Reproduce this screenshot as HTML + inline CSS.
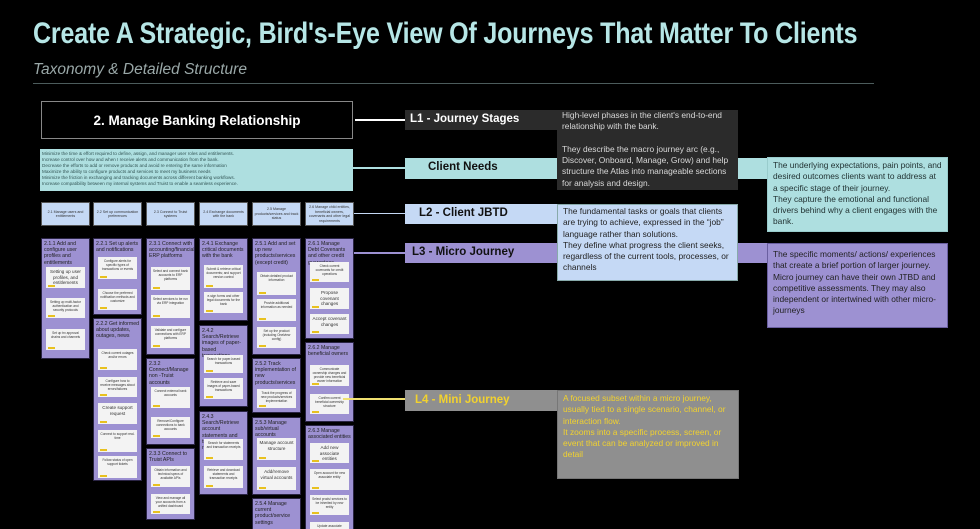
<!DOCTYPE html>
<html><head><meta charset="utf-8"><style>
*{margin:0;padding:0;box-sizing:border-box}
html,body{width:980px;height:529px;overflow:hidden}
body{background:#000;position:relative;font-family:"Liberation Sans",sans-serif}
.a{position:absolute}
.m{position:absolute;background:#9d91d2;width:49px;border:1px solid #2a2444;color:#222;font-size:5.2px;line-height:6.2px;padding:2px 2px;overflow:hidden}
.c{position:absolute;width:39px;background:#f3f3f3;color:#333;font-size:3.2px;line-height:4px;text-align:center;padding:2px 2px 4px;overflow:hidden}
.c:after{content:"";position:absolute;left:2px;bottom:1.5px;width:7px;height:1.5px;background:#e8c11f}
.c.b{font-size:4.6px;line-height:5.6px}
.j{position:absolute;top:202px;height:24px;width:49px;background:#c5d9f5;border:1px solid #555;font-size:3.6px;line-height:4.5px;text-align:center;color:#333;display:flex;align-items:center;justify-content:center;padding:1px}
.d{position:absolute;font-size:8.4px;line-height:11.3px;padding:2px 5px}
.bar{position:absolute;font-weight:bold;font-size:11.5px}
</style></head><body>
<div class="a" style="left:33px;top:17px;font-size:30px;font-weight:bold;color:#b6e6e6;white-space:nowrap;transform:scaleX(0.834);transform-origin:0 0;letter-spacing:-0.2px">Create A Strategic, Bird's-Eye View Of Journeys That Matter To Clients</div>
<div class="a" style="left:33px;top:61px;font-size:15.5px;font-style:italic;color:#9aa8a8;white-space:nowrap">Taxonomy &amp; Detailed Structure</div>
<div class="a" style="left:33px;top:83px;width:841px;height:1px;background:#4c5c5c"></div>

<div class="a" style="left:41px;top:101px;width:312px;height:38px;border:1px solid #888;color:#fff;font-weight:bold;font-size:13.5px;display:flex;align-items:center;justify-content:center">2. Manage Banking Relationship</div>
<div class="a" style="left:40px;top:149px;width:313px;height:42px;background:#aedfe0;color:#355;font-size:4.6px;line-height:6.1px;padding:2px 2px">Minimize the time &amp; effort required to define, assign, and manager user roles and entitlements.<br>Increase control over how and when I receive alerts and communication from the bank.<br>Decrease the efforts to add or remove products and avoid re entering the same information<br>Maximize the ability to configure products and services to meet my business needs<br>Minimize the friction in exchanging and tracking documents across different banking workflows.<br>Increase compatibility between my internal systems and Truist to enable a seamless experience.</div>

<div class="j" style="left:41px">2.1 Manage users and entitlements</div>
<div class="j" style="left:93px">2.2 Set up communication preferences</div>
<div class="j" style="left:146px">2.3 Connect to Truist systems</div>
<div class="j" style="left:199px">2.4 Exchange documents with the bank</div>
<div class="j" style="left:252px">2.5 Manage products/services and track status</div>
<div class="j" style="left:305px">2.6 Manage child entities, beneficial owners, covenants and other legal requirements</div>

<div class="m" style="left:41px;top:238px;height:121px">2.1.1 Add and configure user profiles and entitlements</div>
<div class="c b" style="left:46px;top:267px;height:21px">Setting up user profiles, and entitlements</div>
<div class="c" style="left:46px;top:298px;height:20px">Setting up multi-factor authentication and security protocols</div>
<div class="c" style="left:46px;top:329px;height:21px">Set up trx approval chains and channels</div>

<div class="m" style="left:93px;top:238px;height:77px">2.2.1 Set up alerts and notifications</div>
<div class="c" style="left:98px;top:257px;height:22px">Configure alerts for specific types of transactions or events</div>
<div class="c" style="left:98px;top:289px;height:21px">Choose the preferred notification methods and customize</div>
<div class="m" style="left:93px;top:318px;height:163px">2.2.2 Get informed about updates, outages, news</div>
<div class="c" style="left:98px;top:349px;height:21px">Check current outages and/or errors</div>
<div class="c" style="left:98px;top:377px;height:20px">Configure how to receive messages about errors/failures</div>
<div class="c b" style="left:98px;top:403px;height:21px">Create support request</div>
<div class="c" style="left:98px;top:430px;height:22px">Connect to support real-time</div>
<div class="c" style="left:98px;top:456px;height:22px">Follow status of open support tickets</div>

<div class="m" style="left:146px;top:238px;height:117px">2.3.1 Connect with accounting/financial/ ERP platforms</div>
<div class="c" style="left:151px;top:267px;height:23px">Select and connect bank accounts to ERP platforms</div>
<div class="c" style="left:151px;top:295px;height:23px">Select services to be run via ERP integration</div>
<div class="c" style="left:151px;top:326px;height:22px">Validate and configure connections with ERP platforms</div>
<div class="m" style="left:146px;top:358px;height:87px">2.3.2 Connect/Manage non -Truist accounts</div>
<div class="c" style="left:151px;top:387px;height:21px">Connect external bank accounts</div>
<div class="c" style="left:151px;top:417px;height:21px">Remove/Configure connections to bank accounts</div>
<div class="m" style="left:146px;top:448px;height:72px">2.3.3 Connect to Truist APIs</div>
<div class="c" style="left:151px;top:466px;height:21px">Obtain information and technical specs of available APIs</div>
<div class="c" style="left:151px;top:494px;height:20px">View and manage all your accounts from a unified dashboard</div>

<div class="m" style="left:199px;top:238px;height:83px">2.4.1 Exchange critical documents with the bank</div>
<div class="c" style="left:204px;top:265px;height:23px">Submit &amp; retrieve critical documents; and support version control</div>
<div class="c" style="left:204px;top:292px;height:21px">e-sign forms and other legal documents for the bank</div>
<div class="m" style="left:199px;top:325px;height:82px">2.4.2 Search/Retrieve images of paper-based transactions</div>
<div class="c" style="left:204px;top:355px;height:18px">Search for paper-based transactions</div>
<div class="c" style="left:204px;top:378px;height:21px">Retrieve and save images of paper-based transactions</div>
<div class="m" style="left:199px;top:411px;height:84px">2.4.3 Search/Retrieve account statements and transaction receipts</div>
<div class="c" style="left:204px;top:439px;height:21px">Search for statements and transaction receipts</div>
<div class="c" style="left:204px;top:466px;height:22px">Retrieve and download statements and transaction receipts</div>

<div class="m" style="left:252px;top:238px;height:117px">2.5.1 Add and set up new products/services (except credit)</div>
<div class="c" style="left:257px;top:272px;height:23px">Obtain detailed product information</div>
<div class="c" style="left:257px;top:299px;height:22px">Provide additional information as needed</div>
<div class="c" style="left:257px;top:327px;height:21px">Set up the product (including Onelview config)</div>
<div class="m" style="left:252px;top:358px;height:55px">2.5.2 Track implementation of new products/services</div>
<div class="c" style="left:257px;top:389px;height:19px">Track the progress of new products/services implementation</div>
<div class="m" style="left:252px;top:417px;height:78px">2.5.3 Manage sub/virtual accounts</div>
<div class="c b" style="left:257px;top:438px;height:22px">Manage account structure</div>
<div class="c b" style="left:257px;top:467px;height:23px">Add/remove virtual accounts</div>
<div class="m" style="left:252px;top:498px;height:40px">2.5.4 Manage current product/service settings</div>

<div class="m" style="left:305px;top:238px;height:101px">2.6.1 Manage Debt Covenants and other credit guarentees</div>
<div class="c" style="left:310px;top:262px;height:20px">Check current covenants for credit operations</div>
<div class="c b" style="left:310px;top:288px;height:21px">Propose covenant changes</div>
<div class="c b" style="left:310px;top:314px;height:20px">Accept covenant changes</div>
<div class="m" style="left:305px;top:342px;height:80px">2.6.2 Manage beneficial owners</div>
<div class="c" style="left:310px;top:365px;height:21px">Communicate ownership changes and provide new beneficial owner information</div>
<div class="c" style="left:310px;top:394px;height:20px">Confirm current beneficial ownership structure</div>
<div class="m" style="left:305px;top:425px;height:110px">2.6.3 Manage associated entities</div>
<div class="c b" style="left:310px;top:443px;height:20px">Add new associate entities</div>
<div class="c" style="left:310px;top:469px;height:21px">Open account for new associate entity</div>
<div class="c" style="left:310px;top:495px;height:20px">Select prods/ services to be inherited by new entity</div>
<div class="c" style="left:310px;top:522px;height:20px">Update associate</div>

<div class="a" style="left:355px;top:119px;width:52px;height:2px;background:#fff"></div>
<div class="a" style="left:353px;top:167px;width:54px;height:2px;background:#aedfe0"></div>
<div class="a" style="left:354px;top:213px;width:53px;height:1px;background:#c5d9f5"></div>
<div class="a" style="left:354px;top:252px;width:53px;height:2px;background:#9d91d2"></div>
<div class="a" style="left:343px;top:398px;width:64px;height:2px;background:#f0e070"></div>

<div class="a" style="left:405px;top:158px;width:363px;height:21px;background:#aedfe0"></div>
<div class="bar" style="left:428px;top:161px;color:#111">Client Needs</div>
<div class="d" style="left:767px;top:157px;width:181px;height:75px;background:#aedfe0;color:#233;border:1px solid #9cc">The underlying expectations, pain points, and desired outcomes clients want to address at a specific stage of their journey.<br>They capture the emotional and functional drivers behind why a client engages with the bank.</div>

<div class="a" style="left:405px;top:243px;width:363px;height:20px;background:#9d91d2"></div>
<div class="bar" style="left:412px;top:246px;color:#111">L3 - Micro Journey</div>
<div class="d" style="left:767px;top:243px;width:181px;height:85px;background:#9d91d2;color:#222;border:1px solid #6a5fa0;padding-top:5px">The specific moments/ actions/ experiences that create a brief portion of larger journey. Micro journey can have their own JTBD and competitive assessments. They may also independent or intertwined with other micro-journeys</div>

<div class="a" style="left:405px;top:110px;width:155px;height:20px;background:#2b2b2b"></div>
<div class="bar" style="left:410px;top:113px;color:#fff">L1 - Journey Stages</div>
<div class="d" style="left:557px;top:110px;width:181px;height:80px;background:#2b2b2b;color:#d8d8d8;padding-top:0">High-level phases in the client's end-to-end relationship with the bank.<br><br>They describe the macro journey arc (e.g., Discover, Onboard, Manage, Grow) and help structure the Atlas into manageable sections for analysis and design.</div>

<div class="a" style="left:405px;top:204px;width:155px;height:20px;background:#c5d9f5"></div>
<div class="bar" style="left:419px;top:207px;color:#111">L2 - Client JBTD</div>
<div class="d" style="left:557px;top:204px;width:181px;height:77px;background:#c5d9f5;color:#222;border:1px solid #8aa;padding-top:1px">The fundamental tasks or goals that clients are trying to achieve, expressed in the “job” language rather than solutions.<br>They define what progress the client seeks, regardless of the current tools, processes, or channels</div>

<div class="a" style="left:405px;top:390px;width:155px;height:21px;background:#8f8f8f"></div>
<div class="bar" style="left:415px;top:394px;color:#f2d22e">L4 - Mini Journey</div>
<div class="d" style="left:557px;top:390px;width:182px;height:89px;background:#8f8f8f;color:#f2d22e;border:1px solid #777;padding-top:2px">A focused subset within a micro journey, usually tied to a single scenario, channel, or interaction flow.<br>It zooms into a specific process, screen, or event that can be analyzed or improved in detail</div>
</body></html>
